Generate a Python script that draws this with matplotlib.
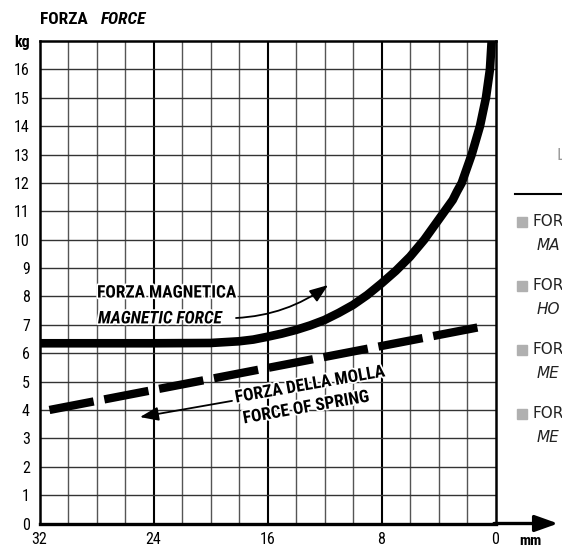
import numpy as np
import matplotlib
matplotlib.use("Agg")
import matplotlib.pyplot as plt
from matplotlib import font_manager
from matplotlib.lines import Line2D
from matplotlib.patches import Rectangle
import matplotlib.patheffects as pe

# ------------------------------
# Dati
mag_mm = [32, 28, 24, 20, 18, 17, 16, 15, 14, 13, 12, 11, 10, 9, 8, 7, 6, 5, 4,
          3.5, 3, 2.7, 2.37, 1.67, 1.09, 0.67, 0.39, 0.27]
mag_kg = [6.35, 6.35, 6.35, 6.36, 6.42, 6.48, 6.58, 6.69, 6.82, 6.98, 7.17, 7.42,
          7.7, 8.05, 8.46, 8.9, 9.4, 10.0, 10.7, 11.05, 11.4, 11.7, 12, 13, 14,
          15, 16, 17]

molla_mm = [31.3, 0.8]
molla_kg = [4.0, 6.95]

xtick_vals = [32, 24, 16, 8, 0]
ytick_vals = list(range(0, 18))
ytick_labels = [str(v) for v in range(0, 17)] + ["kg"]

legend_top = ["FOR", "FOR", "FOR", "FOR"]
legend_bottom = ["MA", "HO", "ME", "ME"]

# ------------------------------
# Font (stretto se disponibile)
nomi = {f.name for f in font_manager.fontManager.ttflist}
stretch = "normal"
narrow = False
for cand in ["Liberation Sans Narrow", "DejaVu Sans Condensed", "Roboto Condensed",
             "Open Sans Condensed", "Noto Sans Condensed"]:
    if cand in nomi:
        fam = [cand, "DejaVu Sans"]
        narrow = True
        break
else:
    cond = [f for f in font_manager.fontManager.ttflist
            if f.name == "DejaVu Sans" and f.stretch == "condensed"]
    if cond:
        fam = ["DejaVu Sans"]
        stretch = "condensed"
        narrow = True
    else:
        fam = ["Liberation Sans", "DejaVu Sans"]
plt.rcParams["font.family"] = fam
plt.rcParams["font.stretch"] = stretch

fs_lab = 12.5 if narrow else 10.8
fs_tick = 11.5 if narrow else 11
fs_tit = 12.5 if narrow else 10.8

W, H = 562, 551
fig = plt.figure(figsize=(W / 100, H / 100), dpi=100)
ax = fig.add_axes([39.5 / W, 1 - 523.5 / H, (495.5 - 39.5) / W, (523.5 - 41) / H])

ax.set_xlim(32, 0)
ax.set_ylim(0, 17)

# griglia
for v in range(2, 32, 2):
    if v % 8 == 0:
        ax.axvline(v, color="black", lw=1.5, zorder=1)
    else:
        ax.axvline(v, color="#555555", lw=1.0, zorder=1)
for h in range(1, 17):
    ax.axhline(h, color="#333333", lw=1.0, zorder=1)

for s in ax.spines.values():
    s.set_linewidth(1.8)
    s.set_color("black")
ax.spines["bottom"].set_linewidth(2.4)

# curve
ax.plot(mag_mm, mag_kg, color="black", lw=6.2, solid_capstyle="butt",
        solid_joinstyle="round", zorder=3)
ax.plot(molla_mm, molla_kg, color="black", lw=6.0, dashes=(5.4, 1.3),
        dash_capstyle="butt", zorder=3)

# assi
ax.set_xticks(xtick_vals)
ax.set_xticklabels([str(v) for v in xtick_vals], fontsize=fs_tick)
ax.set_yticks(ytick_vals)
ax.set_yticklabels(ytick_labels, fontsize=fs_tick)
ax.get_yticklabels()[-1].set_fontweight("bold")
ax.tick_params(length=0, pad=7)
ax.tick_params(axis="x", pad=6)

# freccia asse x
yb = 1 - 523.5 / H
ax.annotate("", xy=(558 / W, yb), xytext=(494 / W, yb),
            xycoords="figure fraction", textcoords="figure fraction",
            arrowprops=dict(arrowstyle="-|>,head_length=0.7,head_width=0.25",
                            mutation_scale=20, lw=2.4, color="black",
                            shrinkA=0, shrinkB=0))
fig.text(530 / W, 1 - 541 / H, "mm", fontsize=11, fontweight="bold",
         ha="center", va="center")

# titolo
fig.text(40 / W, 1 - 19 / H, "FORZA", fontsize=fs_tit, fontweight="bold",
         ha="left", va="center")
fig.text(101 / W, 1 - 19 / H, "FORCE", fontsize=fs_tit, fontweight="bold",
         style="italic", ha="left", va="center")

# etichette
alone = [pe.withStroke(linewidth=2.5, foreground="white")]
ax.text(27.96, 8.12, "FORZA MAGNETICA", fontsize=fs_lab, fontweight="bold",
        ha="left", va="center", zorder=5, path_effects=alone)
ax.text(27.9, 7.21, "MAGNETIC FORCE", fontsize=fs_lab, fontweight="bold",
        style="italic", ha="left", va="center", zorder=5, path_effects=alone)
ax.annotate("", xy=(11.75, 8.40), xytext=(18.21, 7.24),
            arrowprops=dict(arrowstyle="-|>,head_length=0.8,head_width=0.3",
                            mutation_scale=14, lw=1.3, color="black",
                            connectionstyle="arc3,rad=0.15",
                            shrinkA=0, shrinkB=0), zorder=5)

ax.text(13.02, 4.88, "FORZA DELLA MOLLA", fontsize=fs_lab, fontweight="bold",
        ha="center", va="center", rotation=10, rotation_mode="anchor",
        zorder=5, path_effects=alone)
ax.text(13.3, 4.07, "FORCE OF SPRING", fontsize=fs_lab, fontweight="bold",
        ha="center", va="center", rotation=10, rotation_mode="anchor",
        zorder=5, path_effects=alone)
ax.annotate("", xy=(24.95, 3.75), xytext=(18.49, 4.32),
            arrowprops=dict(arrowstyle="-|>,head_length=0.8,head_width=0.3",
                            mutation_scale=14, lw=1.3, color="black",
                            shrinkA=0, shrinkB=0), zorder=5)

# legenda tagliata a destra (testo largo, come nell'originale)
leg_fam = ["DejaVu Sans"]
fig.add_artist(Line2D([515 / W, 1.0], [1 - 194 / H] * 2, color="black", lw=1.5))
fig.text(557 / W, 1 - 155 / H, "L", fontsize=11, color="#999999",
         family=leg_fam, ha="left", va="center")
for i, (t1, t2) in enumerate(zip(legend_top, legend_bottom)):
    yc = 222 + i * 64
    fig.add_artist(Rectangle((517 / W, 1 - (yc + 5) / H), 10 / W, 10 / H,
                             transform=fig.transFigure, color="#b0b0b0"))
    fig.text(532 / W, 1 - yc / H, t1, fontsize=11, family=leg_fam,
             ha="left", va="center", color="#222222")
    fig.text(537 / W, 1 - (yc + 23) / H, t2, fontsize=11, style="italic",
             family=leg_fam, ha="left", va="center", color="#222222")

fig.savefig("out.png", dpi=100)
